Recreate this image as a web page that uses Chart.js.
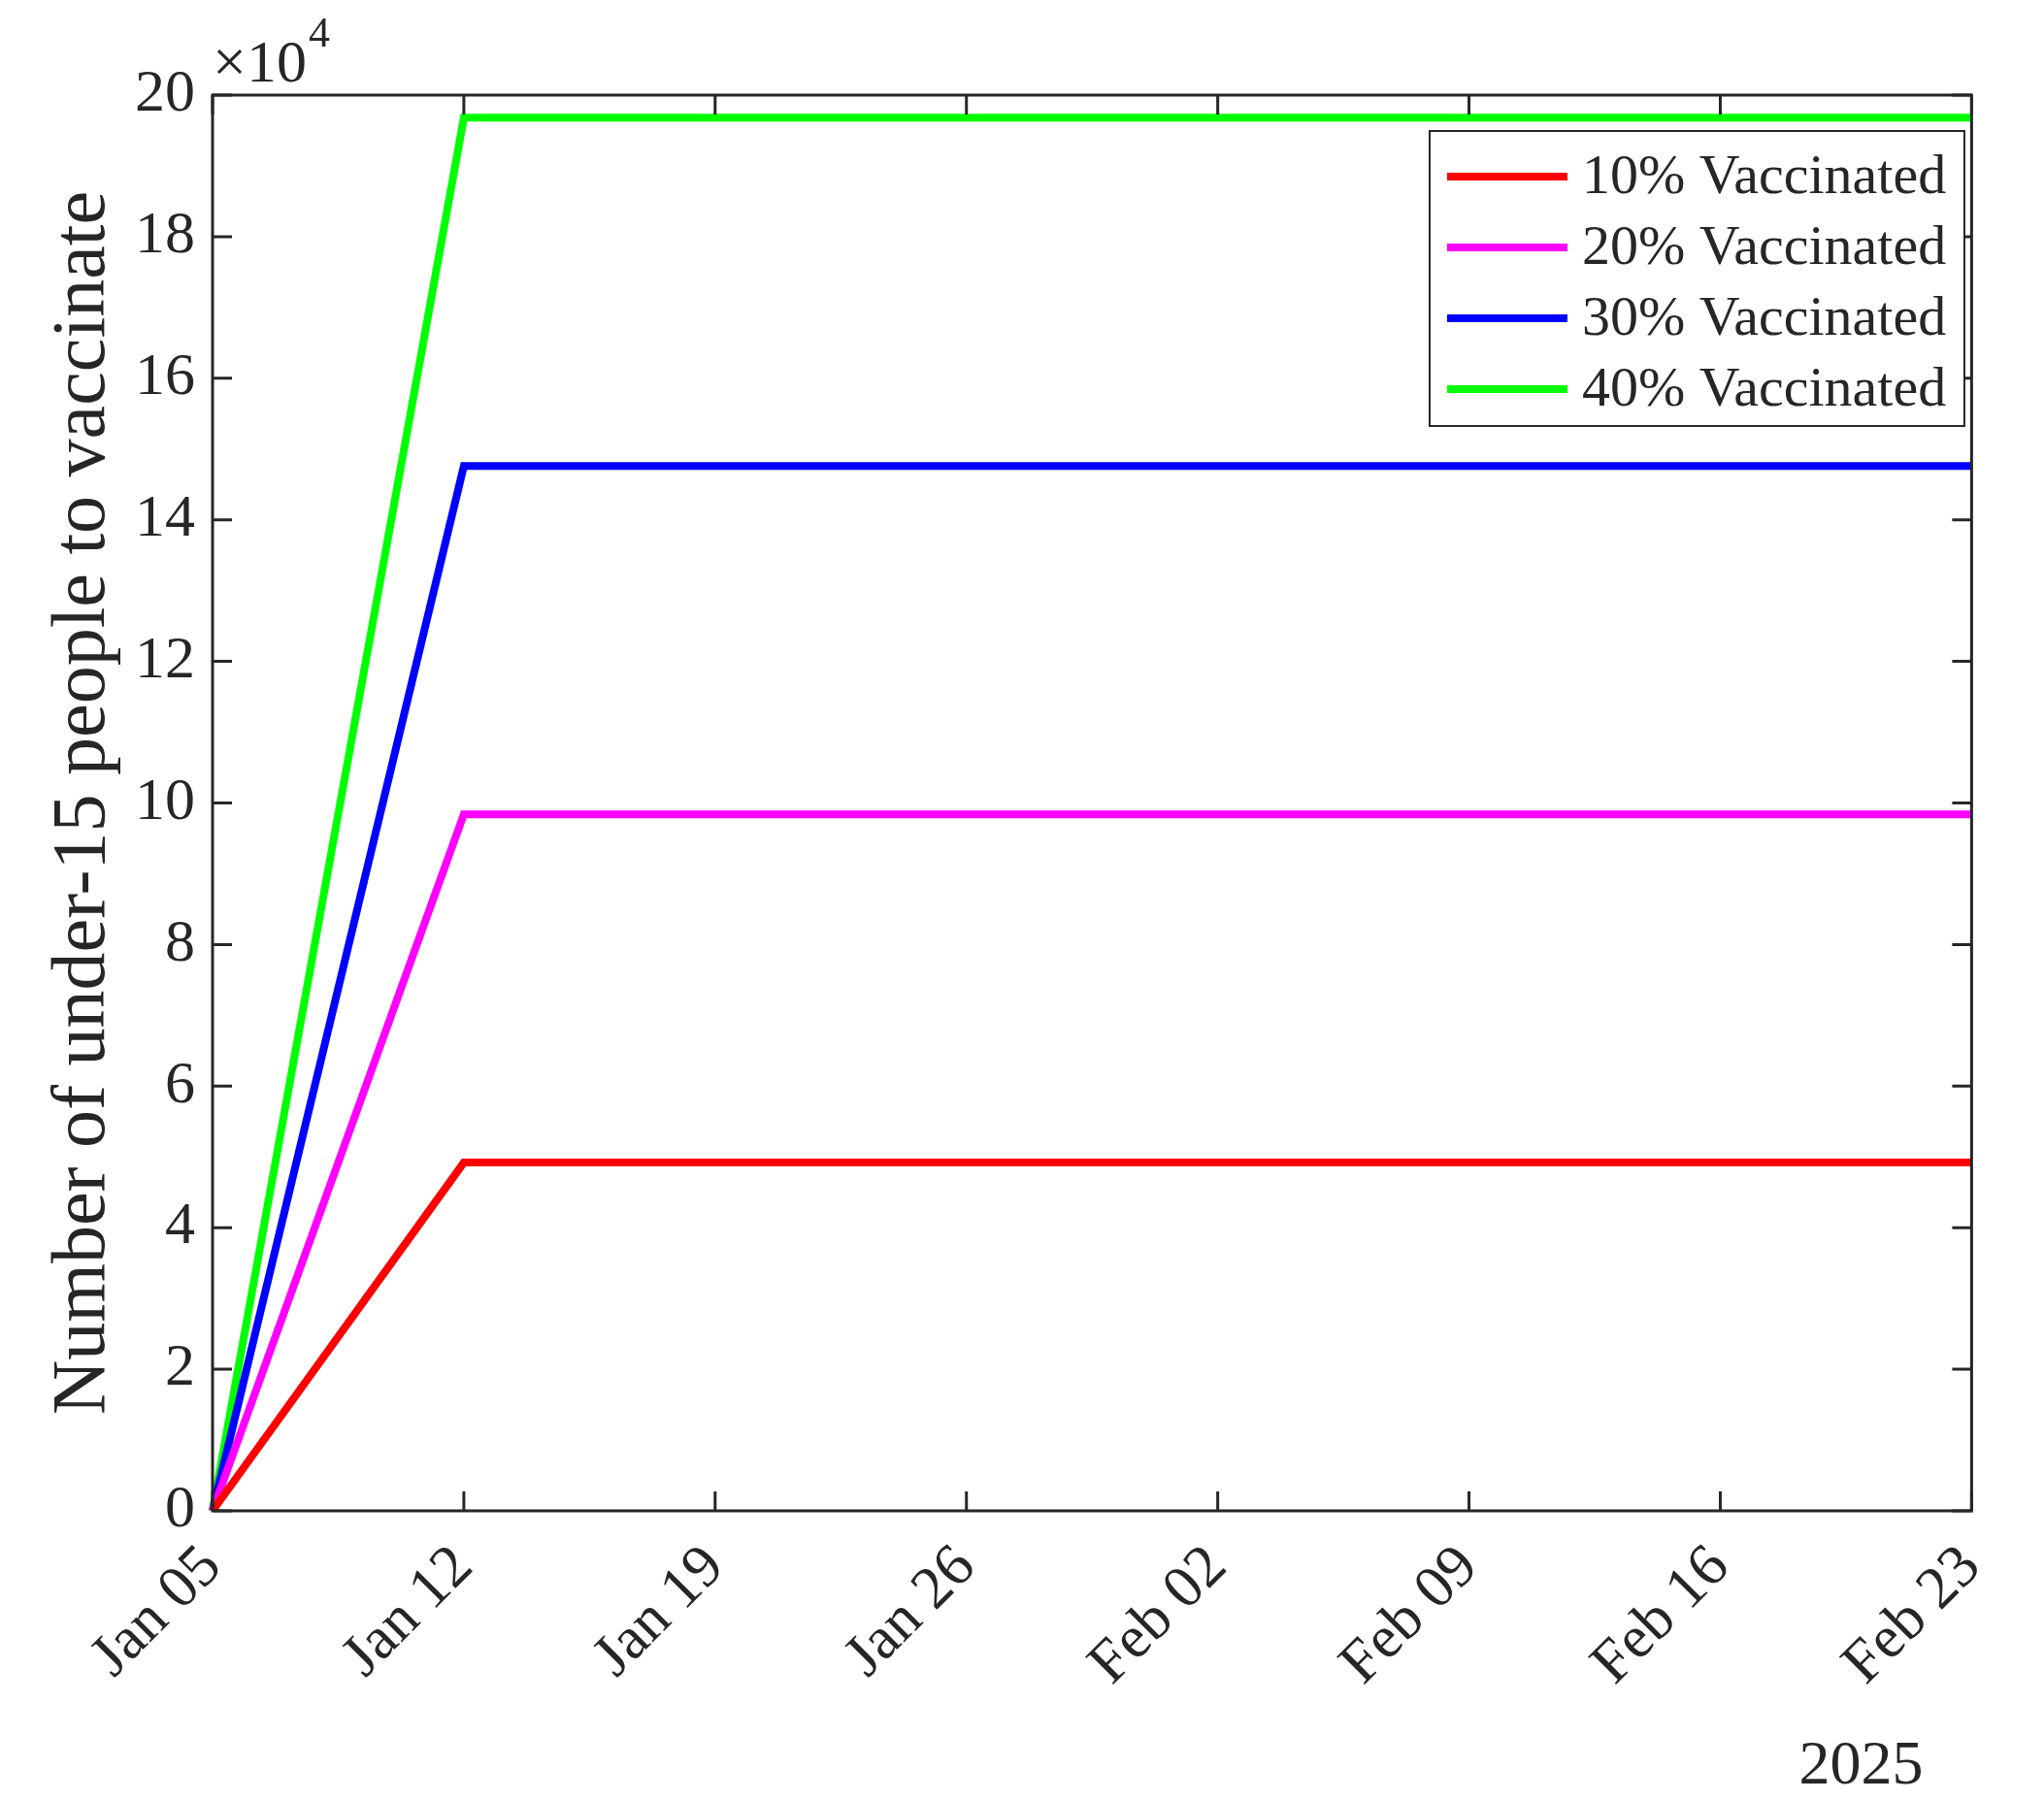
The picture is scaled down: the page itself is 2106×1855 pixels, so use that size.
<!DOCTYPE html>
<html>
<head>
<meta charset="utf-8">
<script src="https://cdn.jsdelivr.net/npm/chart.js@4"></script>
<style>
  body { margin: 0; background: #fff; }
  canvas { display: block; }
</style>
</head>
<body>
<canvas id="chart" width="2106" height="1855"></canvas>
<script>
const dates = ["Jan 05", "Jan 12", "Jan 19", "Jan 26", "Feb 02", "Feb 09", "Feb 16", "Feb 23"];
const yTicks = [0, 2, 4, 6, 8, 10, 12, 14, 16, 18, 20];
const vacc10 = [0, 49200, 49200, 49200, 49200, 49200, 49200, 49200];
const vacc20 = [0, 98400, 98400, 98400, 98400, 98400, 98400, 98400];
const vacc30 = [0, 147600, 147600, 147600, 147600, 147600, 147600, 147600];
const vacc40 = [0, 196800, 196800, 196800, 196800, 196800, 196800, 196800];
const seriesNames = ["10% Vaccinated", "20% Vaccinated", "30% Vaccinated", "40% Vaccinated"];
const colors = ["#ff0000", "#ff00ff", "#0000ff", "#00ff00"];

const FONT = "'Liberation Serif', 'Times New Roman', serif";
const INK = "#262626";
const PAD_LEFT = 40;

// MATLAB-style box, inward ticks, exponent, year label and legend
const matlabDecor = {
    id: "matlabDecor",
    afterDraw(chart) {
        const ctx = chart.ctx;
        const a = chart.chartArea;
        const x = chart.scales.x;
        const y = chart.scales.y;
        ctx.save();
        ctx.strokeStyle = INK;
        ctx.lineWidth = 3;
        ctx.strokeRect(a.left, a.top, a.right - a.left, a.bottom - a.top);
        ctx.beginPath();
        const tl = 20;
        dates.forEach((d, i) => {
            const px = x.getPixelForValue(i);
            ctx.moveTo(px, a.bottom); ctx.lineTo(px, a.bottom - tl);
            ctx.moveTo(px, a.top); ctx.lineTo(px, a.top + tl);
        });
        yTicks.forEach((t) => {
            const py = y.getPixelForValue(t * 1e4);
            ctx.moveTo(a.left, py); ctx.lineTo(a.left + tl, py);
            ctx.moveTo(a.right, py); ctx.lineTo(a.right - tl, py);
        });
        ctx.stroke();

        ctx.fillStyle = INK;
        ctx.textBaseline = "alphabetic";
        ctx.textAlign = "left";
        ctx.font = `62px ${FONT}`;
        ctx.fillText("\u00d710", a.left, a.top - 14);
        const w = ctx.measureText("\u00d710").width;
        ctx.font = `44px ${FONT}`;
        ctx.fillText("4", a.left + w + 2, a.top - 50);

        ctx.font = `64px ${FONT}`;
        ctx.textAlign = "right";
        ctx.fillText("2025", a.right - 50, 1838);

        // legend
        const lx = 1473, ly = 135, lw = 551, lh = 304;
        ctx.fillStyle = "#fff";
        ctx.fillRect(lx, ly, lw, lh);
        ctx.lineWidth = 2;
        ctx.strokeStyle = INK;
        ctx.strokeRect(lx, ly, lw, lh);
        ctx.textAlign = "left";
        ctx.textBaseline = "middle";
        ctx.font = `58px ${FONT}`;
        seriesNames.forEach((name, i) => {
            const ry = 182 + i * 73;
            ctx.strokeStyle = colors[i];
            ctx.lineWidth = 8;
            ctx.beginPath();
            ctx.moveTo(lx + 18, ry); ctx.lineTo(lx + 142, ry);
            ctx.stroke();
            ctx.fillStyle = INK;
            ctx.fillText(name, lx + 157, ry + 2);
        });
        ctx.restore();
    }
};

const datasets = [vacc10, vacc20, vacc30, vacc40].map((data, i) => ({
    label: seriesNames[i],
    data: data,
    borderColor: colors[i],
    borderWidth: 8,
    pointRadius: 0,
    tension: 0,
    fill: false,
}));

new Chart(document.getElementById("chart"), {
    type: "line",
    data: { labels: dates, datasets: datasets },
    plugins: [matlabDecor],
    options: {
        responsive: false,
        animation: false,
        layout: { padding: { top: 98, right: 49, left: PAD_LEFT, bottom: 0 } },
        plugins: { legend: { display: false }, tooltip: { enabled: false } },
        scales: {
            x: {
                offset: false,
                grid: { display: false, drawTicks: false },
                border: { display: false },
                afterFit: (s) => { s.height = 298; },
                ticks: {
                    font: { family: FONT, size: 62 },
                    color: INK,
                    maxRotation: 45,
                    minRotation: 45,
                    autoSkip: false,
                    padding: 22,
                },
            },
            y: {
                min: 0,
                max: 200000,
                afterFit: (s) => { s.width = 219 - PAD_LEFT; },
                afterBuildTicks: (s) => { s.ticks = yTicks.map((t) => ({ value: t * 1e4 })); },
                grid: { display: false, drawTicks: false },
                border: { display: false },
                title: {
                    display: true,
                    text: "Number of under-15 people to vaccinate",
                    font: { family: FONT, size: 78 },
                    color: INK,
                    padding: { top: 0, bottom: 10 },
                },
                ticks: {
                    font: { family: FONT, size: 62 },
                    color: INK,
                    padding: 18,
                    callback: (v) => v / 1e4,
                },
            },
        },
    },
});
</script>
</body>
</html>
